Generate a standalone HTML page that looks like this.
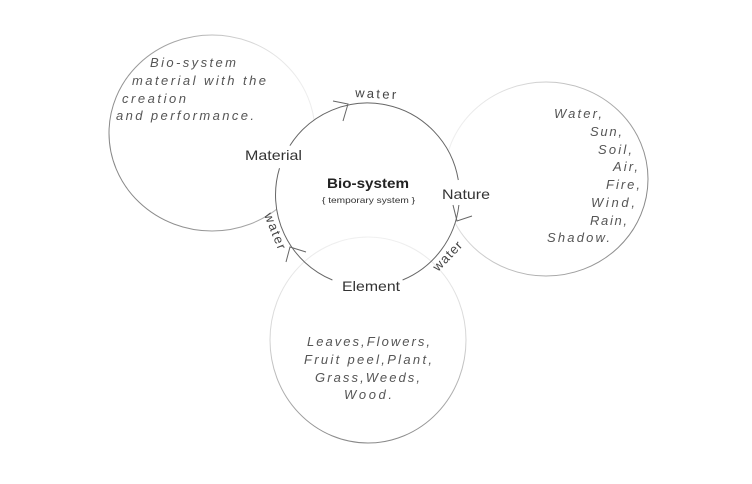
<!DOCTYPE html>
<html><head><meta charset="utf-8"><style>
html,body{margin:0;padding:0;background:#fff}
svg{display:block;filter:blur(.35px)}
text{font-family:"Liberation Sans",sans-serif}
.i{font-style:italic;font-size:13px;fill:#555}
.l{font-size:14px;fill:#333}
.w{font-size:13px;fill:#444}
</style></head><body>
<svg width="752" height="484" viewBox="0 0 752 484" xmlns="http://www.w3.org/2000/svg">
<defs>
<linearGradient id="gl" gradientUnits="userSpaceOnUse" x1="130" y1="180" x2="310" y2="100"><stop offset="0" stop-color="#888"/><stop offset=".55" stop-color="#aaa"/><stop offset="1" stop-color="#eee"/></linearGradient>
<linearGradient id="gr" gradientUnits="userSpaceOnUse" x1="640" y1="220" x2="450" y2="150"><stop offset="0" stop-color="#888"/><stop offset=".5" stop-color="#bbb"/><stop offset="1" stop-color="#eee"/></linearGradient>
<linearGradient id="gb" gradientUnits="userSpaceOnUse" x1="368" y1="443" x2="368" y2="237"><stop offset="0" stop-color="#888"/><stop offset=".5" stop-color="#d4d4d4"/><stop offset="1" stop-color="#f0f0f0"/></linearGradient>
</defs>
<g fill="none" stroke-width="1">
<ellipse cx="212" cy="133" rx="103" ry="98" stroke="url(#gl)"/>
<ellipse cx="546" cy="179" rx="102" ry="97" stroke="url(#gr)"/>
</g>
<circle cx="367.5" cy="195" r="92" fill="#fff"/>
<ellipse cx="368" cy="340" rx="98" ry="103" fill="none" stroke="url(#gb)" stroke-width="1"/>
<g fill="none" stroke="#666" stroke-width="1">
<path d="M289.9 145.6A92 92 0 0 1 458.3 180"/>
<path d="M458.9 205A92 92 0 0 1 402.6 280"/>
<path d="M332.4 280A92 92 0 0 1 279.5 168.2"/>
<path d="M333 101L348 104L343 121"/>
<path d="M472 216L457 221L453 205"/>
<path d="M306 252L290 247L286 262"/>
</g>
<text class="l" x="245" y="160" textLength="57" lengthAdjust="spacingAndGlyphs">Material</text>
<text class="l" x="442" y="199" textLength="48" lengthAdjust="spacingAndGlyphs">Nature</text>
<text class="l" x="342" y="291" textLength="58" lengthAdjust="spacingAndGlyphs">Element</text>
<text x="327" y="188" font-size="14" font-weight="bold" fill="#222" textLength="82" lengthAdjust="spacingAndGlyphs">Bio-system</text>
<text x="322" y="203" font-size="8.5" fill="#333" textLength="93" lengthAdjust="spacingAndGlyphs">{ temporary system }</text>
<text class="w" transform="translate(355 97) rotate(3)" textLength="41">water</text>
<text class="w" transform="translate(264 215) rotate(68)" textLength="38">water</text>
<text class="w" transform="translate(438 272) rotate(-46)" textLength="36">water</text>
<g>
<text class="i" x="150" y="67" textLength="86">Bio-system</text>
<text class="i" x="132" y="85" textLength="134">material with the</text>
<text class="i" x="122" y="103" textLength="64">creation</text>
<text class="i" x="116" y="120" textLength="138">and performance.</text>
<text class="i" x="554" y="118" textLength="48">Water,</text>
<text class="i" x="590" y="136" textLength="32">Sun,</text>
<text class="i" x="598" y="154" textLength="34">Soil,</text>
<text class="i" x="613" y="171" textLength="25">Air,</text>
<text class="i" x="606" y="189" textLength="34">Fire,</text>
<text class="i" x="591" y="207" textLength="44">Wind,</text>
<text class="i" x="590" y="225" textLength="37">Rain,</text>
<text class="i" x="547" y="242" textLength="63">Shadow.</text>
<text class="i" x="307" y="346" textLength="123">Leaves,Flowers,</text>
<text class="i" x="304" y="364" textLength="128">Fruit peel,Plant,</text>
<text class="i" x="315" y="382" textLength="105">Grass,Weeds,</text>
<text class="i" x="344" y="399" textLength="48">Wood.</text>
</g>
</svg>
</body></html>
